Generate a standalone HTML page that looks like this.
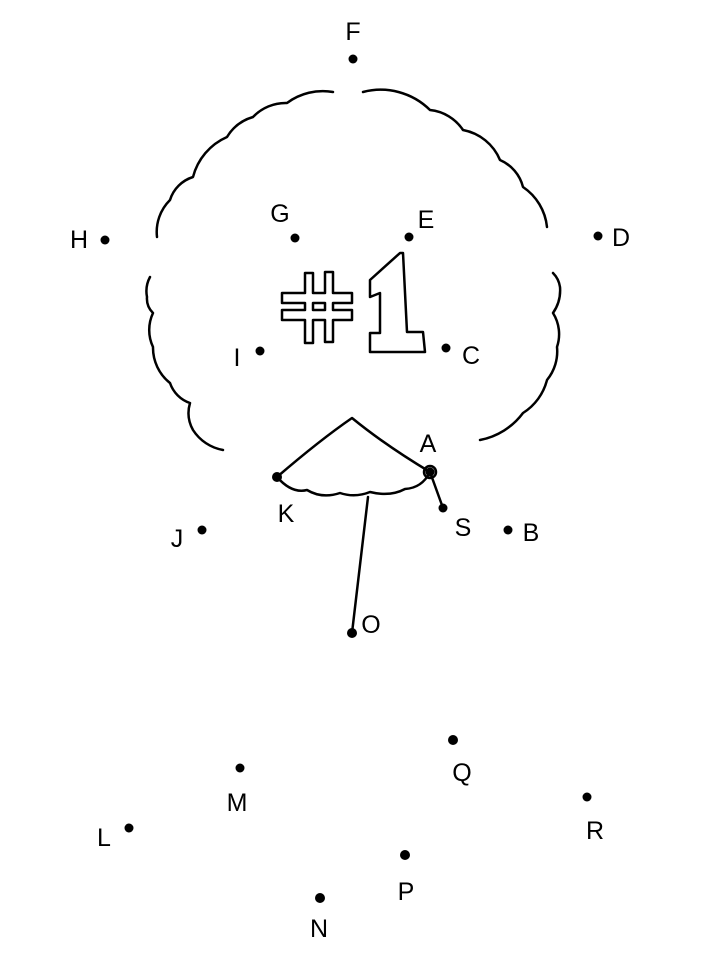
<!DOCTYPE html>
<html><head><style>
html,body{margin:0;padding:0;background:#fff;}
svg{display:block;}
text{font-family:"Liberation Sans",sans-serif;font-size:25px;fill:#000;text-anchor:middle;}
</style></head><body>
<svg width="718" height="957" viewBox="0 0 718 957" xmlns="http://www.w3.org/2000/svg">
<rect width="718" height="957" fill="#fff"/>
<g fill="none" stroke="#000" stroke-width="2.5" stroke-linecap="round" stroke-linejoin="round">
<path d="M363,92 A70,70 0 0 1 430,110 A45,45 0 0 1 463,130 A50,50 0 0 1 500,160 A40,40 0 0 1 523,187 A55,55 0 0 1 547,227"/>
<path d="M553,273 A25,25 0 0 1 560,287 A40,40 0 0 1 553,313 A40,40 0 0 1 557,347 A45,45 0 0 1 547,380 A55,55 0 0 1 523,413 A70,70 0 0 1 480,440"/>
<path d="M333,92 A60,60 0 0 0 287,103 A45,45 0 0 0 253,117 A45,45 0 0 0 227,137 A60,60 0 0 0 193,177 A35,35 0 0 0 170,200 A45,45 0 0 0 157,237"/>
<path d="M150,277 A30,30 0 0 0 147,297 A20,20 0 0 0 153,313 A40,40 0 0 0 153,347 A45,45 0 0 0 170,383 A32,32 0 0 0 190,403 A35,35 0 0 0 193,430 A45,45 0 0 0 223,450"/>
<path d="M277,477 Q320,440 352,418 Q385,445 430,472"/>
<path d="M277,477 Q292,494 307,490 Q322,499 340,493 Q355,498 370,492 Q390,497 405,489 Q422,488 430,472"/>
<path d="M368,497 L352,633"/>
<path d="M430,472 L443,508"/>
<circle cx="430" cy="472" r="6"/>
<path d="M305,273 L313,273 L313,293 L325,293 L325,272 L333,272 L333,293 L352,293 L352,303 L333,303 L333,310 L352,310 L352,320 L333,320 L333,342 L325,342 L325,320 L313,320 L313,343 L305,343 L305,320 L282,320 L282,310 L305,310 L305,303 L282,303 L282,293 L305,293 Z"/>
<path d="M313,303 L325,303 L325,310 L313,310 Z"/>
<path d="M400,253 L370,280 L370,297 L380,293 L380,333 L370,333 L370,352 L425,352 L423,332 L407,332 L403,253 Z"/>
</g>
<g fill="#000">
<circle cx="353" cy="59" r="4.5"/>
<circle cx="295" cy="238" r="4.5"/>
<circle cx="409" cy="237" r="4.5"/>
<circle cx="105" cy="240" r="4.5"/>
<circle cx="598" cy="236" r="4.5"/>
<circle cx="260" cy="351" r="4.5"/>
<circle cx="446" cy="348" r="4.5"/>
<circle cx="430" cy="472" r="4.5"/>
<circle cx="277" cy="477" r="5"/>
<circle cx="443" cy="508" r="4.5"/>
<circle cx="508" cy="530" r="4.5"/>
<circle cx="202" cy="530" r="4.5"/>
<circle cx="352" cy="633" r="5"/>
<circle cx="453" cy="740" r="5"/>
<circle cx="240" cy="768" r="4.5"/>
<circle cx="587" cy="797" r="4.5"/>
<circle cx="129" cy="828" r="4.5"/>
<circle cx="405" cy="855" r="5"/>
<circle cx="320" cy="898" r="5"/>
</g>
<g>
<text x="353" y="40">F</text>
<text x="280" y="222">G</text>
<text x="426" y="228">E</text>
<text x="79" y="248">H</text>
<text x="621" y="246">D</text>
<text x="237" y="366">I</text>
<text x="471" y="364">C</text>
<text x="428" y="452">A</text>
<text x="286" y="522">K</text>
<text x="463" y="536">S</text>
<text x="531" y="541">B</text>
<text x="177" y="547">J</text>
<text x="371" y="633">O</text>
<text x="462" y="781">Q</text>
<text x="237" y="811">M</text>
<text x="595" y="839">R</text>
<text x="104" y="846">L</text>
<text x="406" y="900">P</text>
<text x="319" y="937">N</text>
</g>
</svg>
</body></html>
